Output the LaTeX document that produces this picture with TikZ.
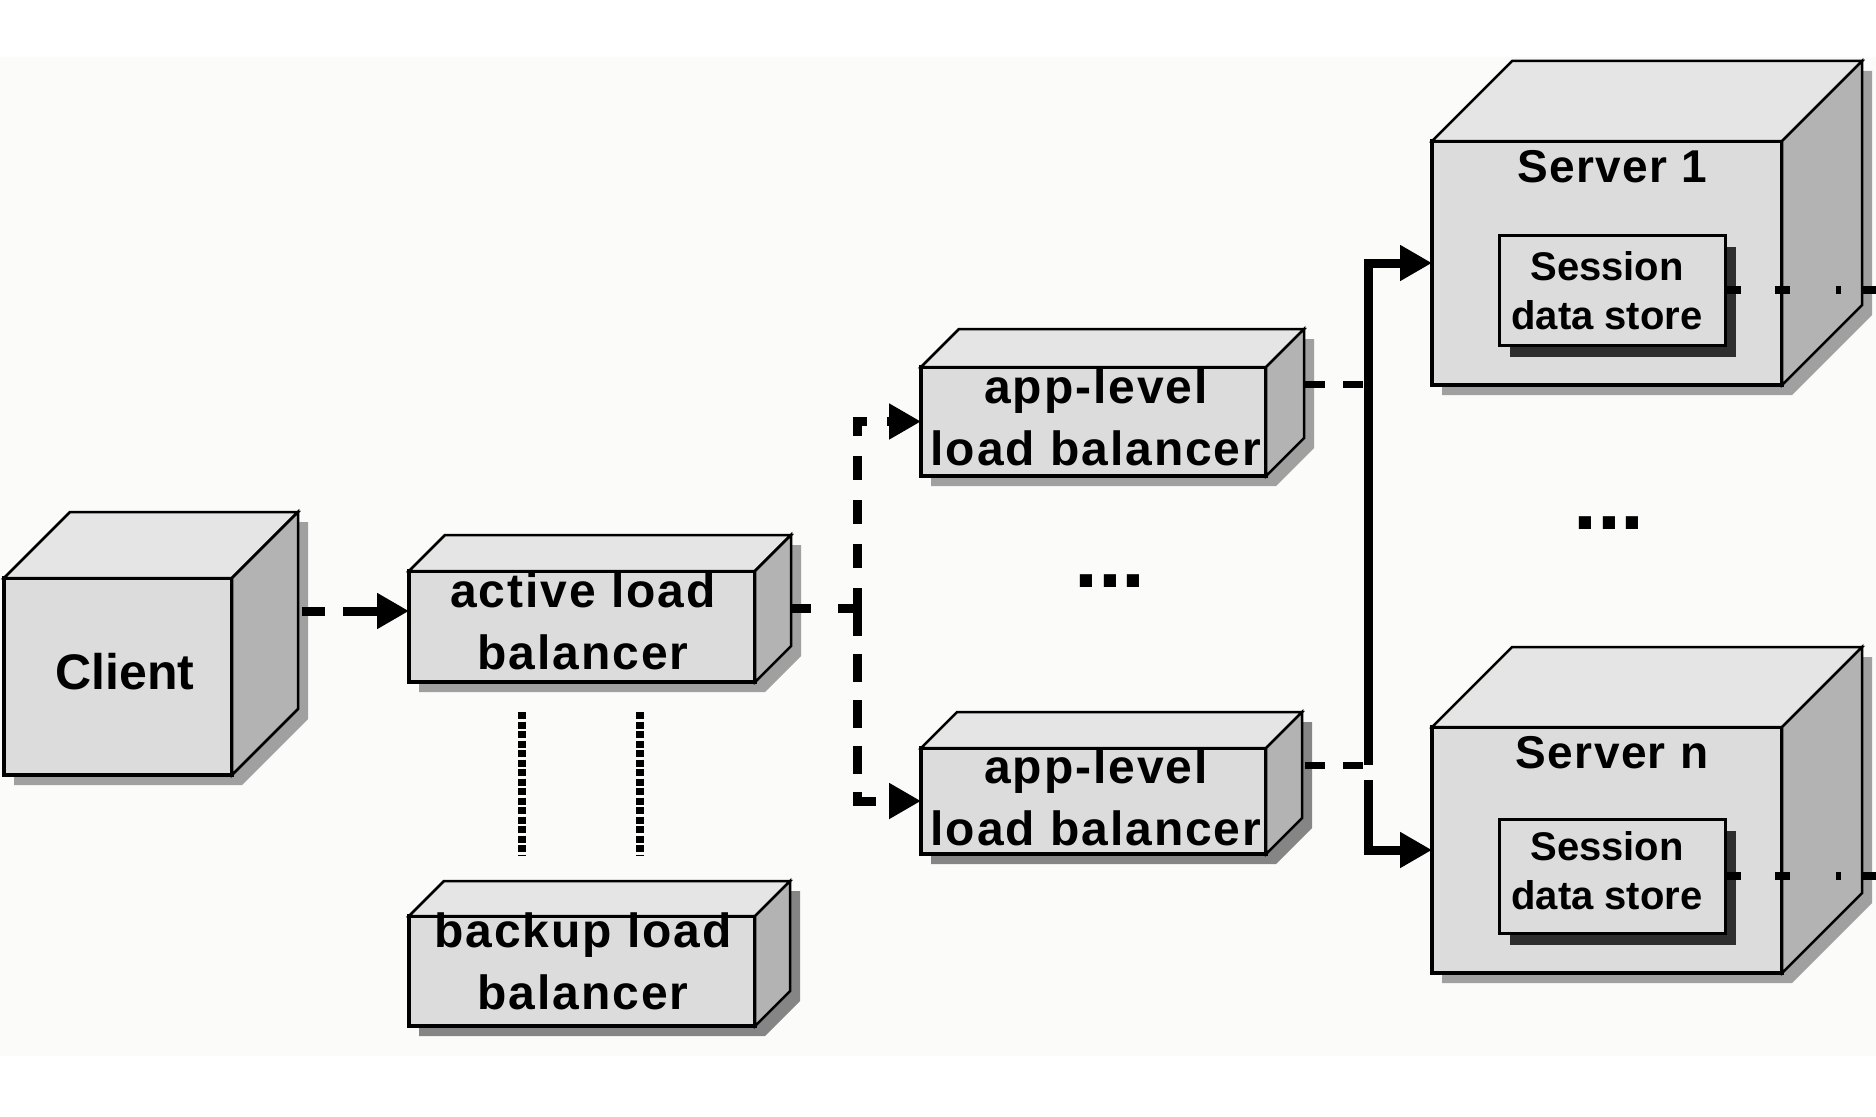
\documentclass[tikz,border=0pt]{standalone}
\usepackage{fontspec}
\setmainfont{Liberation Sans}
\usetikzlibrary{arrows.meta,calc}
\definecolor{frontc}{HTML}{DCDCDC}
\definecolor{topc}{HTML}{E5E5E5}
\definecolor{sidec}{HTML}{B3B3B3}
\definecolor{dithc}{HTML}{A0A0A0}
\definecolor{solidsh}{HTML}{858585}
\definecolor{sesshc}{HTML}{2E2E2E}
\definecolor{bgc}{HTML}{FBFBFA}
\newcommand{\lbfont}{\fontsize{48}{62}\selectfont\bfseries\addfontfeature{LetterSpace=4}}
\newcommand{\srvfont}{\fontsize{46}{50}\selectfont\bfseries\addfontfeature{LetterSpace=3}}
\newcommand{\sesfont}{\fontsize{40}{49}\selectfont\bfseries}
% #1 name, #2 x, #3 y, #4 w, #5 h, #6 depth, #7 shadow colour
\newcommand{\mkcube}[7]{%
  \fill[#7] (#2+10,#3+10) -- ++(#6,-#6) -- ++(#4,0) -- ++(0,#5) -- ++(-#6,#6) -- ++(-#4,0) -- cycle;
  \node[front, minimum width=#4, minimum height=#5, anchor=north west] (#1) at (#2,#3) {};
  \filldraw[topf] (#1.north west) -- ++(#6,-#6) -- ++(#4,0) -- (#1.north east) -- cycle;
  \filldraw[sidef] (#1.north east) -- ++(#6,-#6) -- ++(0,#5) -- (#1.south east) -- cycle;
}
\begin{document}
\begin{tikzpicture}[x=1pt,y=-1pt,
  front/.style={draw, line width=3.5pt, fill=frontc, inner sep=0pt, outer sep=0pt},
  topf/.style={draw, line width=2.5pt, fill=topc, line join=miter},
  sidef/.style={draw, line width=2.5pt, fill=sidec, line join=miter},
  sesbox/.style={draw, line width=3pt, fill=frontc, inner sep=0pt, outer sep=0pt},
  lbl/.style={font=\lbfont, align=center, inner sep=0pt, anchor=north},
  arr/.style={-{Triangle[length=32pt,width=34pt]}},
  dl/.style={line width=9pt, dash pattern=on 28pt off 18pt},
  dlthin/.style={line width=7pt, dash pattern=on 20pt off 18pt},
  sl/.style={line width=9pt},
  dotl/.style={line width=8pt, dash pattern=on 7pt off 2.5pt},
  sesl/.style={line width=8pt, dash pattern=on 16pt off 34pt on 15pt off 46pt on 5pt off 22pt on 20pt off 20pt},
  dots/.style={font=\fontsize{86}{86}\selectfont\bfseries, inner sep=0pt, anchor=base}
]
\useasboundingbox (0,0) rectangle (1876,1116);
\fill[white] (0,0) rectangle (1876,1116);
\fill[bgc] (0,57) rectangle (1876,1056);

% cubes
\mkcube{client}{4}{578}{228}{197}{66}{dithc}
\mkcube{alb}{409}{571}{346}{111}{36}{dithc}
\mkcube{blb}{409}{916}{346}{110}{35}{solidsh}
\mkcube{app1}{921}{367}{345}{109}{38}{dithc}
\mkcube{app2}{921}{748}{345}{106}{36}{solidsh}
\mkcube{srv1}{1432}{141}{350}{244}{80}{dithc}
\mkcube{srvn}{1432}{727}{350}{246}{80}{dithc}

% session data stores
\fill[sesshc] (1510,247) rectangle (1736,357);
\node[sesbox, minimum width=226, minimum height=110, anchor=north west] (ses1) at (1499,235) {};
\fill[sesshc] (1510,831) rectangle (1736,945);
\node[sesbox, minimum width=226, minimum height=114, anchor=north west] (sesn) at (1499,819) {};

% labels
\node[font=\fontsize{50}{56}\selectfont\bfseries, inner sep=0pt, anchor=base] (tclient) at (125,689) {Client};
\node[lbl] (talb) at (583,573) {active load\\balancer};
\node[lbl] (tblb) at (583,913) {backup load\\balancer};
\node[lbl] (tapp1) at (1096,369) {app-level\\load balancer};
\node[lbl] (tapp2) at (1096,749) {app-level\\load balancer};
\node[font=\srvfont, inner sep=0pt, anchor=base] (tsrv1) at (1612,182) {Server 1};
\node[font=\srvfont, inner sep=0pt, anchor=base] (tsrvn) at (1612,768) {Server n};
\node[font=\sesfont, align=center, inner sep=0pt, anchor=north] (tses1) at (1607,251) {Session\\data store};
\node[font=\sesfont, align=center, inner sep=0pt, anchor=north] (tsesn) at (1607,831) {Session\\data store};
\node[dots] (dots1) at (1110,587) {...};
\node[dots] (dots2) at (1609,529) {...};

% connector points
\coordinate (clout) at (302,611);
\coordinate (albout) at (791,608);
\coordinate (split) at (857,608);
\coordinate (a1out) at (1305,384);
\coordinate (a1j) at (1368,384);
\coordinate (a2out) at (1305,765);
\coordinate (bus) at (1368,765);
\coordinate (s1end) at (1876,290);
\coordinate (snend) at (1876,876);
\coordinate (d1a) at (522,712);
\coordinate (d1b) at (522,855);
\coordinate (d2a) at (640,712);
\coordinate (d2b) at (640,855);

% connectors
\draw[dl, dash pattern=on 23pt off 18pt on 80pt, arr] (clout) -- (alb.west |- clout);
\draw[dl, dash pattern=on 20pt off 27pt on 40pt] (albout) -- (split);
\draw[dl, dash pattern=on 24pt off 20pt, dash phase=4pt, arr] (split) |- (app1.west);
\draw[dl, dash pattern=on 28pt off 18pt, arr] (split) |- (app2.west);
\draw[dotl] (d1a) -- (d1b);
\draw[dotl] (d2a) -- (d2b);
\draw[dlthin] (a1out) -- (a1j);
\draw[dlthin] (a2out) -- (bus);
\draw[sl, arr] (bus) |- (srv1.west);
\draw[dl, dash pattern=on 0pt off 15pt on 200pt, arr] (bus) |- (srvn.west);
\draw[sesl] (ses1.east) -- (s1end);
\draw[sesl] (sesn.east) -- (snend);
\end{tikzpicture}
\end{document}
